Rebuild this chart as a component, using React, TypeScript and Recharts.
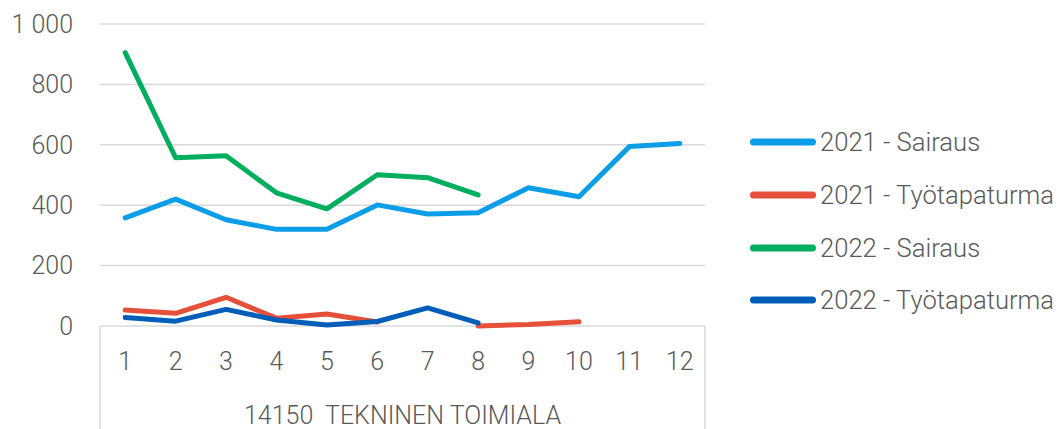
import React from "react"
import {
  LineChart,
  Line,
  XAxis,
  YAxis,
  CartesianGrid,
  Legend,
  ReferenceLine,
} from "recharts"

const months = [1, 2, 3, 4, 5, 6, 7, 8, 9, 10, 11, 12]
const sairaus2021 = [358, 420, 352, 320, 320, 401, 371, 375, 458, 428, 594, 604]
const tapaturma2021 = [53, 42, 95, 26, 40, 13, null, 0, 5, 14, null, null]
const sairaus2022 = [905, 557, 564, 441, 388, 501, 491, 434, null, null, null, null]
const tapaturma2022 = [28, 16, 55, 20, 3, 15, 60, 10, null, null, null, null]
const yTicks = [0, 200, 400, 600, 800, 1000]
const groupLabel = "14150\u00a0 TEKNINEN TOIMIALA"

const series = [
  { key: "s2021", name: "2021 - Sairaus", color: "#0C9DE8" },
  { key: "t2021", name: "2021 - Työtapaturma", color: "#E6503A" },
  { key: "s2022", name: "2022 - Sairaus", color: "#00AE5E" },
  { key: "t2022", name: "2022 - Työtapaturma", color: "#005EB8" },
]

const data = months.map((m, i) => ({
  month: m,
  s2021: sairaus2021[i],
  t2021: tapaturma2021[i],
  s2022: sairaus2022[i],
  t2022: tapaturma2022[i],
}))

const font = "Roboto, 'Open Sans', sans-serif"
const textColor = "#595959"
const gridColor = "#D9D9D9"

function fmt(v: number) {
  return v >= 1000 ? `${Math.floor(v / 1000)} ${String(v % 1000).padStart(3, "0")}` : String(v)
}

function LegendRows({ payload }: any) {
  return (
    <div style={{ fontFamily: font, fontSize: 25.6, fontWeight: 300, color: textColor }}>
      {(payload || []).map((p: any) => (
        <div
          key={p.value}
          style={{ display: "flex", alignItems: "center", height: 52.7, whiteSpace: "nowrap" }}
        >
          <svg width={66} height={10} style={{ flex: "none" }}>
            <line x1={3.5} y1={5} x2={62.5} y2={5} stroke={p.color} strokeWidth={7} strokeLinecap="round" />
          </svg>
          <span style={{ marginLeft: 4 }}>{p.value}</span>
        </div>
      ))}
    </div>
  )
}

export default function App() {
  return (
    <LineChart
      width={1055}
      height={421}
      data={data}
      margin={{ top: 16, right: 28, bottom: 0, left: 0 }}
      style={{ fontFamily: font }}
    >
      <CartesianGrid vertical={false} stroke={gridColor} strokeWidth={1.5} />
      <XAxis
        dataKey="month"
        type="number"
        domain={[0.5, 12.5]}
        ticks={months}
        interval={0}
        height={103}
        axisLine={false}
        tickLine={false}
        tickSize={0}
        tickMargin={26}
        tick={{ fill: textColor, fontSize: 25, fontWeight: 300 }}
        label={{ value: groupLabel, position: "insideBottom", offset: 5, fill: textColor, fontSize: 25, fontWeight: 300 }}
      />
      <YAxis
        domain={[0, 1000]}
        ticks={yTicks}
        width={92}
        axisLine={false}
        tickLine={false}
        tickSize={0}
        tickMargin={27}
        tickFormatter={fmt}
        tick={{ fill: textColor, fontSize: 25, fontWeight: 300 }}
      />
      <ReferenceLine
        segment={[{ x: 0.5, y: 0 }, { x: 0.5, y: -400 }]}
        stroke={gridColor}
        strokeWidth={1.5}
        ifOverflow="visible"
      />
      <ReferenceLine
        segment={[{ x: 12.5, y: 0 }, { x: 12.5, y: -400 }]}
        stroke={gridColor}
        strokeWidth={1.5}
        ifOverflow="visible"
      />
      {series.map((s) => (
        <Line
          key={s.key}
          dataKey={s.key}
          name={s.name}
          stroke={s.color}
          strokeWidth={5}
          strokeLinecap="round"
          strokeLinejoin="round"
          dot={false}
          activeDot={false}
          isAnimationActive={false}
        />
      ))}
      <Legend
        layout="vertical"
        align="right"
        verticalAlign="top"
        width={330}
        content={<LegendRows />}
        wrapperStyle={{ left: 742, top: 108, width: 330 }}
      />
    </LineChart>
  )
}
